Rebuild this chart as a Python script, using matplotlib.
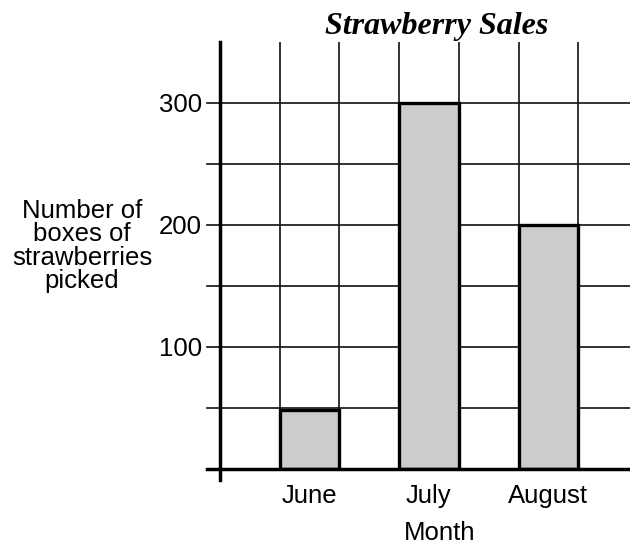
import matplotlib.pyplot as plt

months = ["June", "July", "August"]
boxes = [48, 300, 200]
ytick_values = [100, 200, 300]

plt.rcParams['font.family'] = ['Liberation Sans', 'DejaVu Sans']

fig = plt.figure(figsize=(6.3, 5.5), dpi=100)
ax = fig.add_axes([220 / 630, 81 / 550, 410 / 630, 427 / 550])

# each month sits in every other grid column
centers = [1.5 + 2 * i for i in range(len(months))]
ax.bar(centers, boxes, width=1.0, color="#cccccc", edgecolor="black",
       linewidth=2.4, zorder=3)

ax.set_xlim(0, 410 / 59.7)
ax.set_ylim(0, 350)

# grid
for x in range(1, 7):
    ax.axvline(x, color="#111111", lw=1.2, zorder=1)
for y in range(50, 301, 50):
    ax.axhline(y, xmin=-0.032, color="#111111", lw=1.2, zorder=1, clip_on=False)

# thick axes, slightly overshooting like the original
ax.axvline(0, ymin=-0.026, ymax=1, color="black", lw=2.5, clip_on=False, zorder=4)
ax.axhline(0, xmin=-0.032, xmax=1, color="black", lw=2.5, clip_on=False, zorder=4)
for s in ax.spines.values():
    s.set_visible(False)

ax.set_yticks(ytick_values)
ax.set_yticklabels([str(v) for v in ytick_values], fontsize=18.5)
ax.tick_params(axis="y", length=0, pad=13)
ax.set_xticks(centers)
ax.set_xticklabels(months, fontsize=18.5)
ax.tick_params(axis="x", length=0, pad=11)

ax.set_xlabel("Month", fontsize=18.5)
ax.xaxis.set_label_coords((440 - 220) / 410, -0.122)

fig.text(82 / 630, 1 - 246 / 550, "Number of\nboxes of\nstrawberries\npicked",
         ha="center", va="center", fontsize=18.5, linespacing=0.95)

fig.text(437 / 630, 1 - 34 / 550, "Strawberry Sales", ha="center", va="baseline",
         fontsize=23, family="Liberation Serif", weight="bold", style="italic")

fig.savefig("out.png", dpi=100)
